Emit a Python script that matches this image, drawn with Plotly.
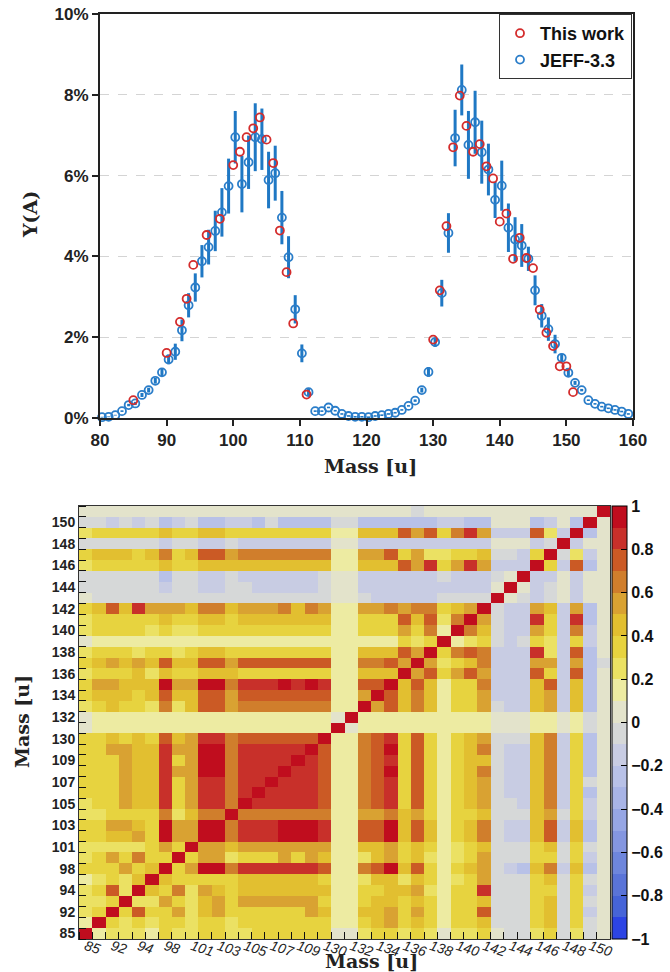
import numpy as np
import plotly.graph_objects as go

# ---------------- top panel data (yields in %) ----------------
jeff_mass = list(range(80, 160))
jeff_y = [0.02, 0.03, 0.07, 0.17, 0.32, 0.36, 0.57, 0.69, 0.92, 1.13,
          1.45, 1.64, 2.17, 2.79, 3.23, 3.88, 4.23, 4.63, 5.09, 5.74,
          6.95, 5.79, 6.33, 6.95, 6.90, 5.89, 6.06, 4.96, 3.98, 2.69,
          1.60, 0.64, 0.17, 0.17, 0.26, 0.18, 0.10, 0.05, 0.03, 0.03,
          0.02, 0.05, 0.07, 0.10, 0.13, 0.20, 0.30, 0.43, 0.69, 1.14,
          1.88, 3.09, 4.58, 6.93, 8.12, 6.76, 7.32, 6.58, 6.15, 5.40,
          5.75, 4.71, 4.42, 4.27, 3.94, 3.16, 2.53, 2.20, 1.83, 1.49,
          1.12, 0.87, 0.69, 0.44, 0.35, 0.28, 0.24, 0.20, 0.16, 0.10]
jeff_err = [0.01, 0.01, 0.01, 0.02, 0.03, 0.04, 0.05, 0.06, 0.07,
            0.09, 0.12, 0.20, 0.27, 0.30, 0.35, 0.40, 0.43, 0.50, 0.60, 0.68,
            0.65, 0.70, 0.66, 0.84, 0.76, 0.70, 0.68, 0.66, 0.52, 0.35,
            0.22, 0.10,
            0.02, 0.02, 0.02, 0.02, 0.02, 0.02, 0.02, 0.02, 0.02, 0.02,
            0.02, 0.02, 0.02, 0.02, 0.02,
            0.03, 0.06, 0.12,
            0.12, 0.33, 0.49, 0.70, 0.63, 0.84, 0.78, 0.78, 0.64, 0.45,
            0.62, 0.60, 0.55, 0.53, 0.30, 0.37, 0.29, 0.29, 0.23, 0.10,
            0.08, 0.05,
            0.03, 0.02, 0.02, 0.02, 0.02, 0.02, 0.02, 0.02]
JEFF_DX = 0.3  # small horizontal dodge of the JEFF markers, as in the original

work_mass = [85, 90, 92, 93, 94, 96, 98, 100, 101, 102, 103, 104, 105, 106,
             107, 108, 109, 111,
             130, 131, 132, 133, 134, 135, 136, 137, 138, 139, 140, 141, 142,
             143, 144, 145, 146, 147, 148, 149, 150, 151]
work_y = [0.44, 1.61, 2.38, 2.95, 3.79, 4.53, 4.93, 6.26, 6.59, 6.95, 7.17,
          7.44, 6.89, 6.31, 4.64, 3.61, 2.34, 0.58,
          1.94, 3.16, 4.75, 6.70, 7.98, 7.23, 6.59, 6.78, 6.23, 5.93, 4.86,
          5.06, 3.94, 4.46, 3.96, 3.71, 2.68, 2.11, 1.78, 1.28, 1.28, 0.64]

# ---------------- correlation matrix (lower triangle, x100) ----------------
corr_mass = work_mass
corr_lower_pct = [
    [95],
    [15, 95],
    [25, 35, 95],
    [25, 25, 35, 95],
    [25, 35, 75, 25, 95],
    [15, 25, 35, 25, 45, 95],
    [35, 35, 35, 55, 35, 45, 95],
    [25, 35, 55, 35, 65, 35, 35, 95],
    [25, 25, 25, 25, 25, 35, 55, 35, 95],
    [35, 35, 45, 45, 55, 35, 95, 55, 55, 95],
    [35, 35, 55, 55, 45, 35, 95, 55, 55, 95, 95],
    [25, 25, 35, 35, 35, 35, 65, 25, 45, 65, 65, 95],
    [25, 35, 35, 55, 45, 45, 85, 35, 55, 85, 85, 65, 95],
    [35, 35, 35, 55, 45, 45, 85, 35, 55, 85, 85, 65, 85, 95],
    [35, 35, 35, 55, 45, 45, 85, 35, 55, 85, 85, 65, 85, 85, 95],
    [35, 35, 35, 55, 45, 45, 85, 55, 55, 95, 95, 65, 85, 85, 85, 95],
    [35, 35, 35, 55, 45, 45, 85, 35, 55, 95, 95, 65, 85, 85, 85, 85, 95],
    [35, 35, 55, 55, 45, 45, 85, 55, 55, 95, 95, 65, 85, 85, 85, 85, 85, 95],
    [35, 35, 45, 35, 45, 35, 75, 45, 55, 85, 85, 65, 72, 72, 72, 72, 72, 72, 95],
    [5, 12, 12, 12, 12, 12, 12, 12, 12, 12, 12, 12, 12, 12, 12, 12, 12, 12, 12, 95],
    [5, 12, 12, 12, 12, 12, 12, 12, 12, 12, 12, 12, 12, 12, 12, 12, 12, 12, 12, 5, 95],
    [25, 35, 45, 35, 35, 25, 65, 25, 45, 75, 75, 55, 65, 65, 65, 65, 65, 65, 65, 12, 12, 95],
    [35, 45, 45, 45, 35, 45, 75, 45, 45, 75, 75, 55, 75, 75, 75, 75, 75, 75, 75, 12, 12, 55, 95],
    [35, 55, 55, 45, 45, 45, 95, 55, 55, 95, 95, 65, 85, 85, 85, 95, 85, 95, 85, 12, 12, 75, 75, 95],
    [25, 35, 35, 35, 45, 25, 45, 35, 35, 45, 45, 45, 35, 35, 35, 35, 35, 35, 35, 12, 12, 45, 45, 45, 95],
    [35, 45, 55, 45, 55, 45, 75, 45, 45, 75, 75, 55, 75, 75, 75, 75, 75, 75, 75, 12, 12, 65, 65, 75, 58, 95],
    [25, 35, 35, 35, 25, 35, 35, 25, 35, 45, 45, 35, 35, 35, 35, 35, 35, 35, 35, 12, 12, 45, 45, 45, 75, 55, 95],
    [5, 15, 15, 15, 15, 15, 15, 15, 15, 15, 15, 15, 18, 18, 18, 18, 18, 18, 18, 12, 12, 18, 18, 18, 35, 25, 35, 95],
    [25, 35, 35, 35, 35, 25, 35, 25, 25, 35, 35, 35, 35, 35, 35, 35, 35, 35, 35, 12, 12, 35, 35, 35, 55, 35, 65, 15, 95],
    [25, 35, 35, 35, 35, 35, 45, 35, 35, 45, 45, 35, 45, 45, 45, 45, 45, 45, 45, 12, 12, 35, 35, 35, 75, 45, 75, 25, 65, 95],
    [35, 45, 75, 45, 85, 55, 55, 55, 45, 65, 65, 45, 55, 55, 55, 65, 45, 65, 55, 12, 12, 55, 55, 65, 55, 65, 65, 35, 45, 55, 95],
    [5, -5, -5, -5, -5, -5, -5, -5, -5, -5, -5, -5, -5, -5, -5, -5, -5, -5, -5, 5, 5, -5, -15, -15, -15, -15, -15, -5, -5, -5, -5, 95],
    [-5, -5, -5, -5, -5, -5, -15, -5, -5, -15, -15, -5, -5, -15, -15, -15, -15, -15, -5, 5, 5, -15, -15, -15, -15, -15, -15, -15, -15, -15, -15, 5, 95],
    [-5, -5, -5, -5, -5, -5, -25, -5, -5, -15, -15, -5, -15, -15, -15, -15, -15, -15, -5, 5, 5, -15, -15, -15, -15, -15, -15, -5, -15, -15, -15, -5, 5, 95],
    [25, 35, 35, 35, 35, 35, 45, 35, 35, 45, 45, 45, 45, 45, 45, 45, 45, 45, 45, 12, 12, 45, 45, 45, 75, 55, 85, 35, 55, 85, 55, -15, -15, -15, 95],
    [35, 45, 45, 45, 35, 45, 65, 35, 45, 75, 75, 55, 65, 65, 65, 65, 65, 65, 65, 12, 12, 55, 55, 75, 35, 55, 25, 25, 35, 35, 45, -5, -5, -15, 35, 95],
    [-5, -5, -5, -5, -5, -5, -15, -5, -5, -15, -15, -5, -15, -15, -15, -15, -15, -15, -15, 5, 5, -15, -15, -15, -15, -15, -15, -15, -15, -15, -15, 5, 5, 5, -15, -5, 95],
    [25, 35, 35, 35, 35, 35, 45, 35, 35, 45, 45, 35, 38, 38, 38, 38, 38, 38, 38, 12, 12, 45, 45, 45, 75, 55, 75, 35, 65, 85, 55, -15, -15, -15, 75, 25, -15, 95],
    [-5, -5, -15, -5, -15, -5, -25, -15, -5, -25, -25, -15, -15, -25, -5, -25, -25, -25, -25, -5, -5, -25, -25, -25, -25, -25, -25, -15, -15, -25, -25, 5, 5, 5, -25, -15, 5, -25, 95],
    [5, 5, 5, 5, 5, 5, 5, 5, 5, 5, 5, 5, 5, 5, 5, 5, 5, 5, 5, 5, 5, 5, 5, 5, 5, -5, 5, 5, 5, 5, 5, 5, 5, 5, 5, 5, 5, 5, 5, 95],
]

cbar_ticks = [-1, -0.8, -0.6, -0.4, -0.2, 0, 0.2, 0.4, 0.6, 0.8, 1]
cbar_text = ["\u22121", "\u22120.8", "\u22120.6", "\u22120.4", "\u22120.2", "0",
             "0.2", "0.4", "0.6", "0.8", "1"]

# 20 discrete colour bins, from -1 to +1
bin_colors = ['#2C44E4', '#4664D8', '#5A74D8', '#6E86DC', '#8496E0',
              '#96A6E4', '#A8B4E6', '#B8C1E7', '#C8CCE3', '#D6D8D8',
              '#E3E3CB', '#EDEBA2', '#EBE163', '#E7D33F', '#E2BF30',
              '#D9A232', '#D07E2C', '#CB5A25', '#C8302A', '#C00D1E']

# ---------------- build matrix ----------------
n = len(corr_mass)
Z = np.zeros((n, n))
for i, row in enumerate(corr_lower_pct):
    for j, v in enumerate(row):
        Z[i, j] = v / 100.0
        Z[j, i] = v / 100.0

colorscale = []
nb = len(bin_colors)
for k, c in enumerate(bin_colors):
    colorscale.append([k / nb, c])
    colorscale.append([(k + 1) / nb, c])

idx = list(range(n))

W, H = 670, 972
def px_x(p):
    return p / W
def px_y(p):
    return 1 - p / H

BLUE = '#2A7DC9'
BLUE_ERR = '#1F78C4'
RED = '#D42C2C'
SANS = 'Liberation Sans, Arial, sans-serif'
SERIF = 'DejaVu Serif, serif'
TITLE_FONT = dict(family=SERIF, size=19, color='#222', weight='bold')

fig = go.Figure()

fig.add_trace(go.Scatter(
    x=[m + JEFF_DX for m in jeff_mass], y=jeff_y, mode='markers', name='JEFF-3.3',
    marker=dict(symbol='circle-open', size=8, color=BLUE, line=dict(width=1.8, color=BLUE)),
    error_y=dict(type='data', array=jeff_err, thickness=3, width=0, color=BLUE_ERR),
    cliponaxis=False, xaxis='x', yaxis='y'))

fig.add_trace(go.Scatter(
    x=work_mass, y=work_y, mode='markers', name='This work',
    marker=dict(symbol='circle-open', size=8, color=RED, line=dict(width=1.8, color=RED)),
    cliponaxis=False, xaxis='x', yaxis='y'))

fig.add_trace(go.Heatmap(
    z=Z, x=idx, y=idx, xaxis='x2', yaxis='y2',
    colorscale=colorscale, zmin=-1, zmax=1,
    colorbar=dict(
        x=px_x(612), xanchor='left',
        y=(px_y(939) + px_y(506)) / 2, yanchor='middle',
        len=(939 - 506) / H, lenmode='fraction',
        thickness=15, thicknessmode='pixels',
        outlinecolor='black', outlinewidth=1,
        tickmode='array', tickvals=cbar_ticks, ticktext=cbar_text,
        ticks='inside', ticklen=6, tickcolor='black',
        tickfont=dict(family=SANS, size=16, color='#111', weight='bold'),
        xpad=0, ypad=0),
    showscale=True))

tick_idx = idx[::2]
tick_txt = [str(m) for m in corr_mass[::2]]

fig.update_layout(
    width=W, height=H,
    margin=dict(l=0, r=0, t=0, b=0, autoexpand=False),
    paper_bgcolor='white', plot_bgcolor='white',
    showlegend=True,
    legend=dict(x=px_x(632), y=px_y(14), xanchor='right', yanchor='top',
                bgcolor='white', bordercolor='#333', borderwidth=1,
                traceorder='reversed',
                font=dict(family=SANS, size=18, color='#111', weight='bold'),
                itemwidth=30, tracegroupgap=6),
    xaxis=dict(domain=[px_x(100), px_x(633)], anchor='y', range=[80, 160],
               automargin=False, ticklabeloverflow='allow',
               tickmode='linear', tick0=80, dtick=10,
               ticks='outside', ticklen=6, tickwidth=1.5, tickcolor='#222',
               showline=True, linewidth=2, linecolor='#222', mirror=True,
               showgrid=False, zeroline=False,
               tickfont=dict(family=SANS, size=17, color='#222', weight='bold')),
    yaxis=dict(domain=[px_y(418), px_y(14)], anchor='x', range=[0, 10],
               automargin=False, ticklabeloverflow='allow',
               tickmode='linear', tick0=0, dtick=2, ticksuffix='%',
               ticks='outside', ticklen=6, tickwidth=1.5, tickcolor='#222',
               showline=True, linewidth=2, linecolor='#222', mirror=True,
               showgrid=True, gridcolor='#D4D4D4', griddash='dash', gridwidth=1,
               zeroline=False,
               tickfont=dict(family=SANS, size=17, color='#222', weight='bold')),
    xaxis2=dict(domain=[px_x(79), px_x(610)], anchor='y2', range=[-0.5, n - 0.5],
                automargin=False, ticklabeloverflow='allow',
                tickmode='array', tickvals=tick_idx, ticktext=tick_txt,
                tickangle=18, ticks='', ticklabelstandoff=-7,
                showgrid=False, zeroline=False,
                showline=True, linewidth=1, linecolor='#333', mirror=True,
                minor=dict(tick0=-0.5, dtick=1, ticks='inside', ticklen=7,
                           tickcolor='#111', tickwidth=1, showgrid=False),
                tickfont=dict(family=SANS, size=14, color='#222', style='italic')),
    yaxis2=dict(domain=[px_y(939), px_y(506)], anchor='x2', range=[-0.5, n - 0.5],
                automargin=False,
                tickmode='array', tickvals=tick_idx, ticktext=tick_txt,
                ticks='', showgrid=False, zeroline=False,
                showline=True, linewidth=1, linecolor='#333', mirror=True,
                minor=dict(tick0=-0.5, dtick=1, ticks='inside', ticklen=7,
                           tickcolor='#111', tickwidth=1, showgrid=False),
                tickfont=dict(family=SANS, size=14, color='#222', weight='bold')),
    annotations=[
        dict(text='Mass [u]', xref='paper', yref='paper', x=px_x(370), y=px_y(466),
             showarrow=False, font=TITLE_FONT, xanchor='center', yanchor='middle'),
        dict(text='Y(A)', xref='paper', yref='paper', x=px_x(30), y=px_y(215),
             showarrow=False, font=TITLE_FONT, textangle=-90,
             xanchor='center', yanchor='middle'),
        dict(text='Mass [u]', xref='paper', yref='paper', x=px_x(22), y=px_y(722),
             showarrow=False, font=TITLE_FONT, textangle=-90,
             xanchor='center', yanchor='middle'),
        dict(text='Mass [u]', xref='paper', yref='paper', x=px_x(371), y=px_y(961),
             showarrow=False, font=TITLE_FONT, xanchor='center', yanchor='middle'),
    ],
)

# remove the default 8 px page margin so the figure fills the 670x972 window exactly
fig.write_html('out.html',
               config={'displayModeBar': False},
               post_script="document.body.style.margin='0px';"
                           "document.body.style.overflow='hidden';")
